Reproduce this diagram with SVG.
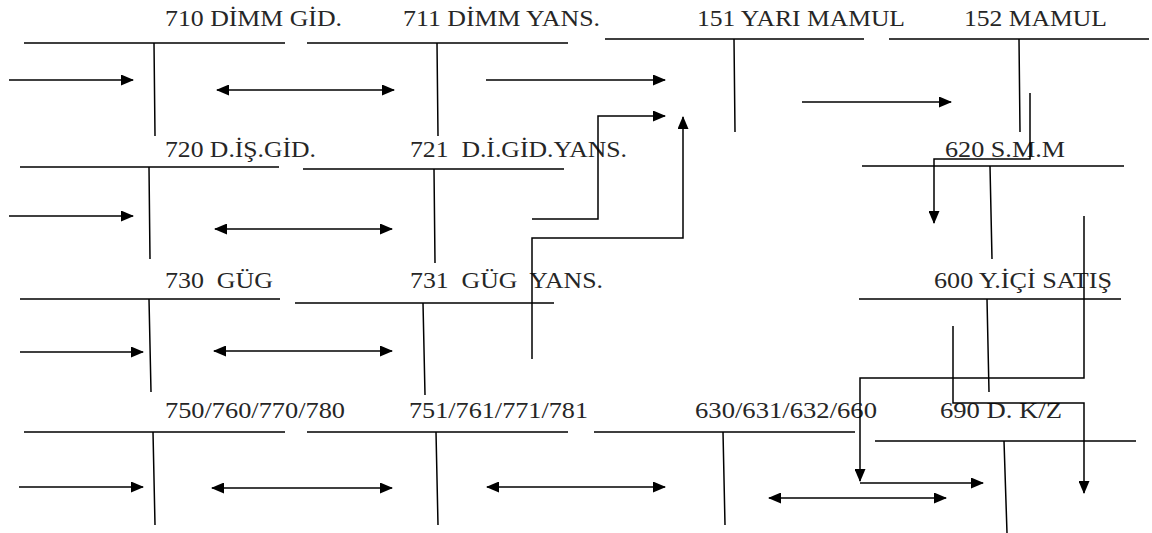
<svg xmlns="http://www.w3.org/2000/svg" width="1152" height="533" viewBox="0 0 1152 533">
<style>
.t{font-family:"Liberation Serif","Times New Roman",serif;font-size:24px;fill:#262626;white-space:pre}
.l{stroke:#000;stroke-width:1.5;fill:none}
.c{stroke:#000;stroke-width:1.5;fill:none}
.a{marker-end:url(#ah)}
.d{marker-start:url(#ah);marker-end:url(#ah)}
</style>
<defs>
<marker id="ah" viewBox="0 0 13 11" refX="12" refY="5.5" markerWidth="13" markerHeight="11" markerUnits="userSpaceOnUse" orient="auto-start-reverse">
<path d="M0,0 L13,5.5 L0,11 z" fill="#000"/>
</marker>
</defs>
<rect width="1152" height="533" fill="#fff"/>

<g id="acc710"><text class="t" x="165" y="26" textLength="177" lengthAdjust="spacingAndGlyphs">710 DİMM GİD.</text><path class="l" d="M24,43 H285 M154,43 L155,136"/></g>
<g id="acc711"><text class="t" x="403" y="26" textLength="197" lengthAdjust="spacingAndGlyphs">711 DİMM YANS.</text><path class="l" d="M307,43 H568 M437,43 L438,136"/></g>
<g id="acc151"><text class="t" x="697" y="26" textLength="208" lengthAdjust="spacingAndGlyphs">151 YARI MAMUL</text><path class="l" d="M605,39 H864 M734,39 L735,132"/></g>
<g id="acc152"><text class="t" x="964" y="26" textLength="143" lengthAdjust="spacingAndGlyphs">152 MAMUL</text><path class="l" d="M889,39 H1149 M1019,39 L1020,132"/></g>

<g id="acc720"><text class="t" x="165" y="157" textLength="151" lengthAdjust="spacingAndGlyphs">720 D.İŞ.GİD.</text><path class="l" d="M20,167 H279 M149,167 L150,259"/></g>
<g id="acc721"><text class="t" x="410" y="157" textLength="217" lengthAdjust="spacingAndGlyphs">721  D.İ.GİD.YANS.</text><path class="l" d="M303,169 H564 M434,169 L435,263"/></g>
<g id="acc620"><text class="t" x="945" y="157" textLength="120" lengthAdjust="spacingAndGlyphs">620 S.M.M</text><path class="l" d="M862,166 H1124 M990,166 L992,259"/></g>

<g id="acc730"><text class="t" x="165" y="288" textLength="108" lengthAdjust="spacingAndGlyphs">730  GÜG</text><path class="l" d="M20,299 H280 M149,299 L151,392"/></g>
<g id="acc731"><text class="t" x="410" y="288" textLength="193" lengthAdjust="spacingAndGlyphs">731  GÜG  YANS.</text><path class="l" d="M295,303 H554 M423,303 L425,395"/></g>
<g id="acc600"><text class="t" x="934" y="288" textLength="178" lengthAdjust="spacingAndGlyphs">600 Y.İÇİ SATIŞ</text><path class="l" d="M859,299 H1121 M987,299 L989,392"/></g>

<g id="acc750"><text class="t" x="165" y="418" textLength="180" lengthAdjust="spacingAndGlyphs">750/760/770/780</text><path class="l" d="M24,432 H285 M153,432 L155,525"/></g>
<g id="acc751"><text class="t" x="409" y="418" textLength="179" lengthAdjust="spacingAndGlyphs">751/761/771/781</text><path class="l" d="M307,432 H568 M436,432 L438,525"/></g>
<g id="acc630"><text class="t" x="695" y="418" textLength="182" lengthAdjust="spacingAndGlyphs">630/631/632/660</text><path class="l" d="M594,432 H855 M723,432 L725,525"/></g>
<g id="acc690"><text class="t" x="940" y="418" textLength="122" lengthAdjust="spacingAndGlyphs">690 D. K/Z</text><path class="l" d="M875,441 H1136 M1004,441 L1007,533"/></g>

<g id="connectors">
<path class="c a" d="M9,80 H133"/>
<path class="c d" d="M217,90 H394"/>
<path class="c a" d="M486,80 H665"/>
<path class="c a" d="M802,102 H951"/>
<path class="c a" d="M1030,93 V159 H934 V223"/>

<path class="c a" d="M9,216 H133"/>
<path class="c d" d="M215,229 H392"/>
<path class="c a" d="M532,219 H598 V116 H665"/>
<path class="c a" d="M532,359 V238 H683 V117"/>

<path class="c a" d="M20,352 H143"/>
<path class="c d" d="M214,351 H392"/>
<path class="c a" d="M1084,216 V378 H860 V481"/>
<path class="c a" d="M860,483 H983"/>
<path class="c a" d="M953,326 V403 H1084 V493"/>

<path class="c a" d="M19,487 H143"/>
<path class="c d" d="M212,488 H392"/>
<path class="c d" d="M487,487 H665"/>
<path class="c d" d="M769,498 H946"/>
</g>
</svg>
